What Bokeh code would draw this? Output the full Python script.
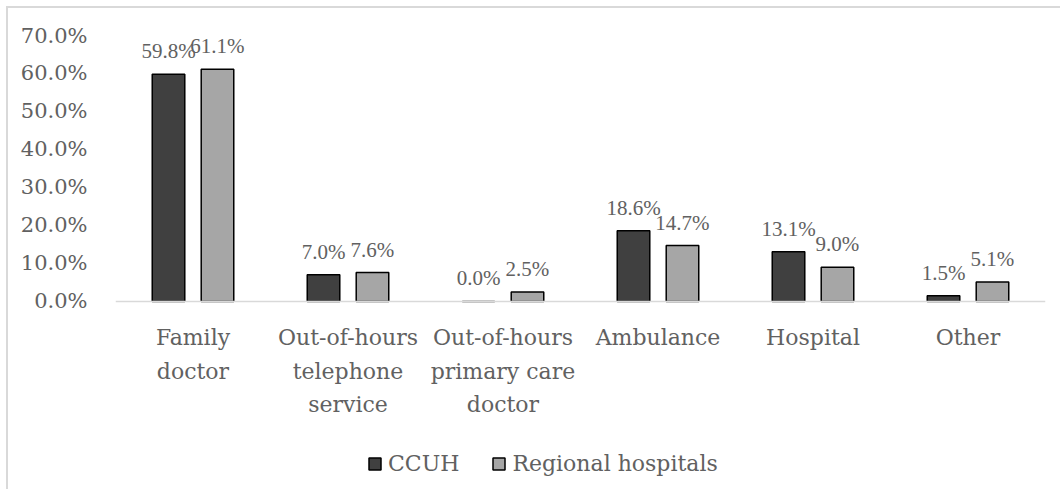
from bokeh.plotting import figure
from bokeh.models import ColumnDataSource, NumeralTickFormatter, FixedTicker, Legend, LegendItem
from bokeh.transform import dodge
from bokeh.core.properties import value
from bokeh.embed import file_html
from bokeh.resources import INLINE

categories = ["Family\ndoctor", "Out-of-hours\ntelephone\nservice", "Out-of-hours\nprimary care\ndoctor",
              "Ambulance", "Hospital", "Other"]
ccuh = [0.598, 0.070, 0.000, 0.186, 0.131, 0.015]
regional = [0.611, 0.076, 0.025, 0.147, 0.090, 0.051]
y_ticks = [0.0, 0.1, 0.2, 0.3, 0.4, 0.5, 0.6, 0.7]

src = ColumnDataSource(dict(
    cat=categories,
    ccuh=ccuh,
    reg=regional,
    ccuh_lbl=[f"{v*100:.1f}%" for v in ccuh],
    reg_lbl=[f"{v*100:.1f}%" for v in regional],
))

FONT = "DejaVu Serif"
LFONT = "Liberation Serif"
GRAY = "#616161"

p = figure(x_range=categories, y_range=(-0.487, 0.7), width=1054, height=483,
           output_backend="svg", toolbar_location=None,
           min_border_left=107, min_border_right=17, min_border_top=27, min_border_bottom=5,
           styles={"border-left": "2px solid #d9d9d9", "border-top": "2px solid #d9d9d9",
                   "margin-left": "6px", "margin-top": "6px"})
p.x_range.range_padding = 0
p.outline_line_color = None
p.xgrid.grid_line_color = None
p.ygrid.grid_line_color = None

off = 0.158
w = 0.21
r1 = p.vbar(x=dodge("cat", -off, range=p.x_range), top="ccuh", width=w, source=src,
            fill_color="#404040", line_color="black", line_width=1.5)
r2 = p.vbar(x=dodge("cat", off, range=p.x_range), top="reg", width=w, source=src,
            fill_color="#a6a6a6", line_color="black", line_width=1.5)

p.text(x=dodge("cat", -off, range=p.x_range), y="ccuh", text="ccuh_lbl", source=src,
       text_font=value(LFONT), text_font_size="21px", text_color=GRAY,
       text_align="center", text_baseline="bottom", y_offset=-11)
p.text(x=dodge("cat", off, range=p.x_range), y="reg", text="reg_lbl", source=src,
       text_font=value(LFONT), text_font_size="21px", text_color=GRAY,
       text_align="center", text_baseline="bottom", y_offset=-11)

p.yaxis.ticker = FixedTicker(ticks=y_ticks)
p.yaxis.formatter = NumeralTickFormatter(format="0.0%")
p.yaxis.axis_line_color = None
p.yaxis.major_tick_line_color = None
p.yaxis.minor_tick_line_color = None
p.yaxis.major_label_text_font = FONT
p.yaxis.major_label_text_font_size = "21px"
p.yaxis.major_label_text_color = GRAY
p.yaxis.major_label_standoff = 22

p.xaxis.fixed_location = 0
p.xaxis.axis_line_color = "#d9d9d9"
p.xaxis.axis_line_width = 1.5
p.xaxis.major_tick_line_color = None
p.xaxis.minor_tick_line_color = None
p.xaxis.major_label_text_font = FONT
p.xaxis.major_label_text_font_size = "22px"
p.xaxis.major_label_text_color = GRAY
p.xaxis.major_label_text_line_height = 1.33
p.xaxis.major_label_standoff = 18

legend = Legend(items=[LegendItem(label="CCUH", renderers=[r1]),
                       LegendItem(label="Regional hospitals", renderers=[r2])],
                orientation="horizontal", location=(252, 10),
                label_text_font=FONT, label_text_font_size="22px", label_text_color=GRAY,
                glyph_width=15, glyph_height=15, label_standoff=6, spacing=32,
                border_line_color=None, background_fill_alpha=0, margin=0, padding=4)
p.add_layout(legend, "center")

open("out.html", "w").write(file_html(p, INLINE))
